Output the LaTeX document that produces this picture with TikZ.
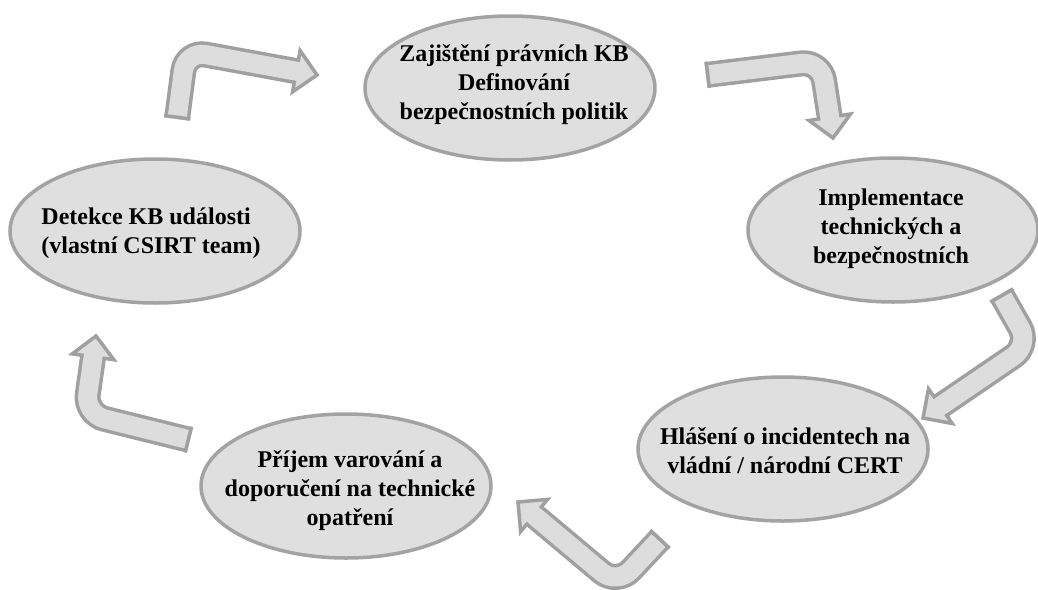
\documentclass[tikz,border=0pt]{standalone}
\usepackage{fontspec}
\setmainfont{Liberation Serif}
\usetikzlibrary{calc,shapes.geometric}

\definecolor{stagefill}{RGB}{223,223,223}
\definecolor{stageline}{RGB}{163,163,163}
\definecolor{arrowfill}{RGB}{221,221,221}
\definecolor{arrowline}{RGB}{160,160,160}

\tikzset{
  stage/.style={ellipse, draw=stageline, fill=stagefill, line width=3.5pt,
    minimum width=290pt, minimum height=144pt, inner sep=0pt},
  stagetext/.style={font=\fontsize{24}{29}\selectfont\bfseries, align=center,
    inner sep=0pt, text=black},
  shaft/.style={draw=arrowline, double=arrowfill, line width=3.5pt,
    double distance=19pt, rounded corners=20pt, line cap=butt},
  rim/.style={draw=arrowline, line width=3.5pt, line join=miter, line cap=butt},
}

% Bent block arrow: #1 name prefix, #2 tail end, #3 bend, #4 tip
\newcommand{\bentarrow}[4]{%
  \coordinate (#1-t) at (#2);
  \coordinate (#1-b) at (#3);
  \coordinate (#1-p) at (#4);
  \coordinate (#1-h) at ($(#1-p)!21pt!(#1-b)$);   % head base centre
  \coordinate (#1-k) at ($(#1-h)!1.75pt!(#1-b)$);  % just behind the head base
  \coordinate (#1-c) at ($(#1-t)!1.75pt!(#1-b)$);  % tail cap line
  % shaft
  \draw[shaft] (#1-t) -- (#1-b) -- (#1-h);
  % tail cap
  \draw[rim] ($(#1-c)!13.25pt!90:(#1-b)$) -- ($(#1-c)!13.25pt!-90:(#1-b)$);
  % head body
  \fill[arrowfill] ($(#1-k)!9.5pt!-90:(#1-b)$) -- ($(#1-h)!9.5pt!90:(#1-p)$)
    -- ($(#1-h)!21pt!90:(#1-p)$) -- (#1-p) -- ($(#1-h)!21pt!-90:(#1-p)$)
    -- ($(#1-h)!9.5pt!-90:(#1-p)$) -- ($(#1-k)!9.5pt!90:(#1-b)$) -- cycle;
  % head outline, joined to the shaft edges
  \draw[rim] ($(#1-k)!11.25pt!-90:(#1-b)$) -- ($(#1-h)!11.25pt!90:(#1-p)$)
    -- ($(#1-h)!21pt!90:(#1-p)$) -- (#1-p) -- ($(#1-h)!21pt!-90:(#1-p)$)
    -- ($(#1-h)!11.25pt!-90:(#1-p)$) -- ($(#1-k)!11.25pt!90:(#1-b)$);
}

\begin{document}
\begin{tikzpicture}[x=1pt, y=-1pt]
  \clip (0,0) rectangle (1038,589);
  \fill[white] (0,0) rectangle (1038,589);

  % stages of the cycle
  \node[stage] (policy) at (510,88) {};
  \node[stagetext] (policy-t) at (514,85)
    {Zajištění právních KB\\Definování\\bezpečnostních politik};

  \node[stage] (impl) at (893,230) {};
  \node[stagetext] (impl-t) at (891,229)
    {Implementace\\technických a\\bezpečnostních};

  \node[stage] (report) at (783,449) {};
  \node[stagetext] (report-t) at (785,451)
    {Hlášení o incidentech na\\vládní / národní CERT};

  \node[stage] (receive) at (346,486) {};
  \node[stagetext] (receive-t) at (350,491)
    {Příjem varování a\\doporučení na technické\\opatření};

  \node[stage] (detect) at (155,231) {};
  \node[stagetext, align=left] (detect-t) at (151,233)
    {Detekce KB události\\(vlastní CSIRT team)};

  % arrows between the stages
  \bentarrow{a1}{177,119}{186,51}{317,75}
  \bentarrow{a2}{706,75}{821,61}{833,138}
  \bentarrow{a3}{1001,294}{1030,345}{923,418}
  \bentarrow{a4}{661,538}{617,585}{518,502}
  \bentarrow{a5}{190,440}{85,414}{96,336}
\end{tikzpicture}
\end{document}
